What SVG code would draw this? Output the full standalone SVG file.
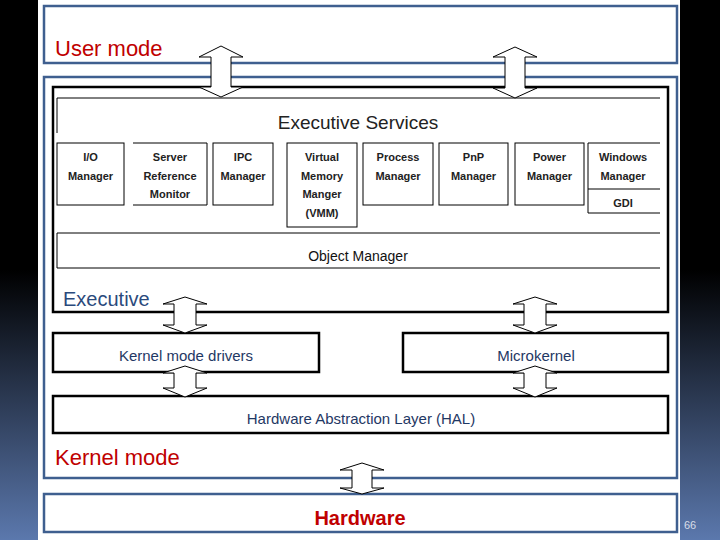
<svg xmlns="http://www.w3.org/2000/svg" width="720" height="540" viewBox="0 0 720 540">
<defs>
<linearGradient id="side" x1="0" y1="0" x2="0" y2="1">
<stop offset="0" stop-color="#000"/>
<stop offset="0.5" stop-color="#000"/>
<stop offset="1" stop-color="#5b78ad"/>
</linearGradient>
<style>
.mode{fill:none;stroke:#3f5f8f;stroke-width:2.5}
.thick{fill:#fff;stroke:#000;stroke-width:2.5}
.thin{fill:none;stroke:#000;stroke-width:1}
.arrow{fill:#fff;stroke:#000;stroke-width:1}
.red{font-family:"Liberation Sans",Arial,sans-serif;fill:#c00000;font-size:22px}
.blue{font-family:"Liberation Sans",Arial,sans-serif;fill:#2b4a7c;font-size:20px}
.lbl{font-family:"Liberation Sans",Arial,sans-serif;fill:#1f3864;font-size:15px;text-anchor:middle}
.sm{font-family:"Liberation Sans",Arial,sans-serif;fill:#222;font-size:11px;font-weight:bold;text-anchor:middle}
.title{font-family:"Liberation Sans",Arial,sans-serif;fill:#222;font-size:19px;text-anchor:middle}
.obj{font-family:"Liberation Sans",Arial,sans-serif;fill:#111;font-size:14px;text-anchor:middle}
</style>
</defs>
<rect x="0" y="0" width="720" height="540" fill="url(#side)"/>
<rect x="38" y="0" width="642" height="540" fill="#fff"/>

<g id="user-mode">
<rect class="mode" x="44" y="6" width="633" height="57"/>
<text class="red" x="55" y="56">User mode</text>
</g>
<g id="kernel-mode">
<rect class="mode" x="44" y="77" width="633" height="401"/>
<text class="red" x="55" y="465">Kernel mode</text>
</g>
<g id="hardware">
<rect class="mode" x="44" y="494" width="633" height="38"/>
<text class="red" x="360" y="525" text-anchor="middle" font-weight="bold" style="font-size:20px">Hardware</text>
</g>
<g id="executive">
<rect class="thick" x="53" y="87" width="615" height="225"/>
<text class="blue" x="63" y="306">Executive</text>
</g>
<g id="executive-services">
<path class="thin" d="M57,133 V98 H660"/>
<text class="title" x="358" y="129">Executive Services</text>
</g>
<g id="io-manager">
<rect class="thin" x="57" y="143" width="67" height="62"/>
<text class="sm" x="90.5" y="161">I/O</text>
<text class="sm" x="90.5" y="180">Manager</text>
</g>
<g id="server-reference-monitor">
<path class="thin" d="M133,143 H207 V205 H133"/>
<text class="sm" x="170" y="161">Server</text>
<text class="sm" x="170" y="180">Reference</text>
<text class="sm" x="170" y="198">Monitor</text>
</g>
<g id="ipc-manager">
<rect class="thin" x="213" y="143" width="60" height="62"/>
<text class="sm" x="243" y="161">IPC</text>
<text class="sm" x="243" y="180">Manager</text>
</g>
<g id="vmm">
<rect class="thin" x="287" y="143" width="70" height="84"/>
<text class="sm" x="322" y="161">Virtual</text>
<text class="sm" x="322" y="180">Memory</text>
<text class="sm" x="322" y="198">Manger</text>
<text class="sm" x="322" y="217">(VMM)</text>
</g>
<g id="process-manager">
<rect class="thin" x="363" y="143" width="70" height="62"/>
<text class="sm" x="398" y="161">Process</text>
<text class="sm" x="398" y="180">Manager</text>
</g>
<g id="pnp-manager">
<rect class="thin" x="439" y="143" width="69" height="62"/>
<text class="sm" x="473.5" y="161">PnP</text>
<text class="sm" x="473.5" y="180">Manager</text>
</g>
<g id="power-manager">
<rect class="thin" x="515" y="143" width="69" height="62"/>
<text class="sm" x="549.5" y="161">Power</text>
<text class="sm" x="549.5" y="180">Manager</text>
</g>
<g id="windows-manager">
<path class="thin" d="M660,143 H588 V213 H660 M588,189 H660"/>
<text class="sm" x="623" y="161">Windows</text>
<text class="sm" x="623" y="180">Manager</text>
<text class="sm" x="623" y="207">GDI</text>
</g>
<g id="object-manager">
<path class="thin" d="M660,233 H57 V268 H660"/>
<text class="obj" x="358" y="261">Object Manager</text>
</g>
<g id="kernel-mode-drivers">
<rect class="thick" x="53" y="333" width="266" height="39"/>
<text class="lbl" x="186" y="361">Kernel mode drivers</text>
</g>
<g id="microkernel">
<rect class="thick" x="403" y="333" width="265" height="39"/>
<text class="lbl" x="536" y="361">Microkernel</text>
</g>
<g id="hal">
<rect class="thick" x="53" y="396" width="615" height="37"/>
<text class="lbl" x="361" y="424">Hardware Abstraction Layer (HAL)</text>
</g>
<g id="connectors">
<path class="arrow" d="M221,46 L243,57 L231,57 L231,87 L243,87 L221,97 L199,87 L211,87 L211,57 L199,57 Z"/>
<path class="arrow" d="M515,47 L537,57 L525,57 L525,88 L537,88 L515,98 L493,88 L505,88 L505,57 L493,57 Z"/>
<path class="arrow" d="M185,297 L207,304 L196,304 L196,325 L207,325 L185,333 L163,325 L174,325 L174,304 L163,304 Z"/>
<path class="arrow" d="M185,366 L207,373 L196,373 L196,388 L207,388 L185,397 L163,388 L174,388 L174,373 L163,373 Z"/>
<path class="arrow" d="M535,297 L557,304 L546,304 L546,325 L557,325 L535,333 L513,325 L524,325 L524,304 L513,304 Z"/>
<path class="arrow" d="M535,366 L557,373 L546,373 L546,388 L557,388 L535,397 L513,388 L524,388 L524,373 L513,373 Z"/>
<path class="arrow" d="M362,463 L384,470 L372,470 L372,488 L384,488 L362,494 L340,488 L352,488 L352,470 L340,470 Z"/>
</g>
<text x="690" y="529" text-anchor="middle" font-family="Liberation Sans,Arial,sans-serif" font-size="11" fill="#d8dde8">66</text>
</svg>
